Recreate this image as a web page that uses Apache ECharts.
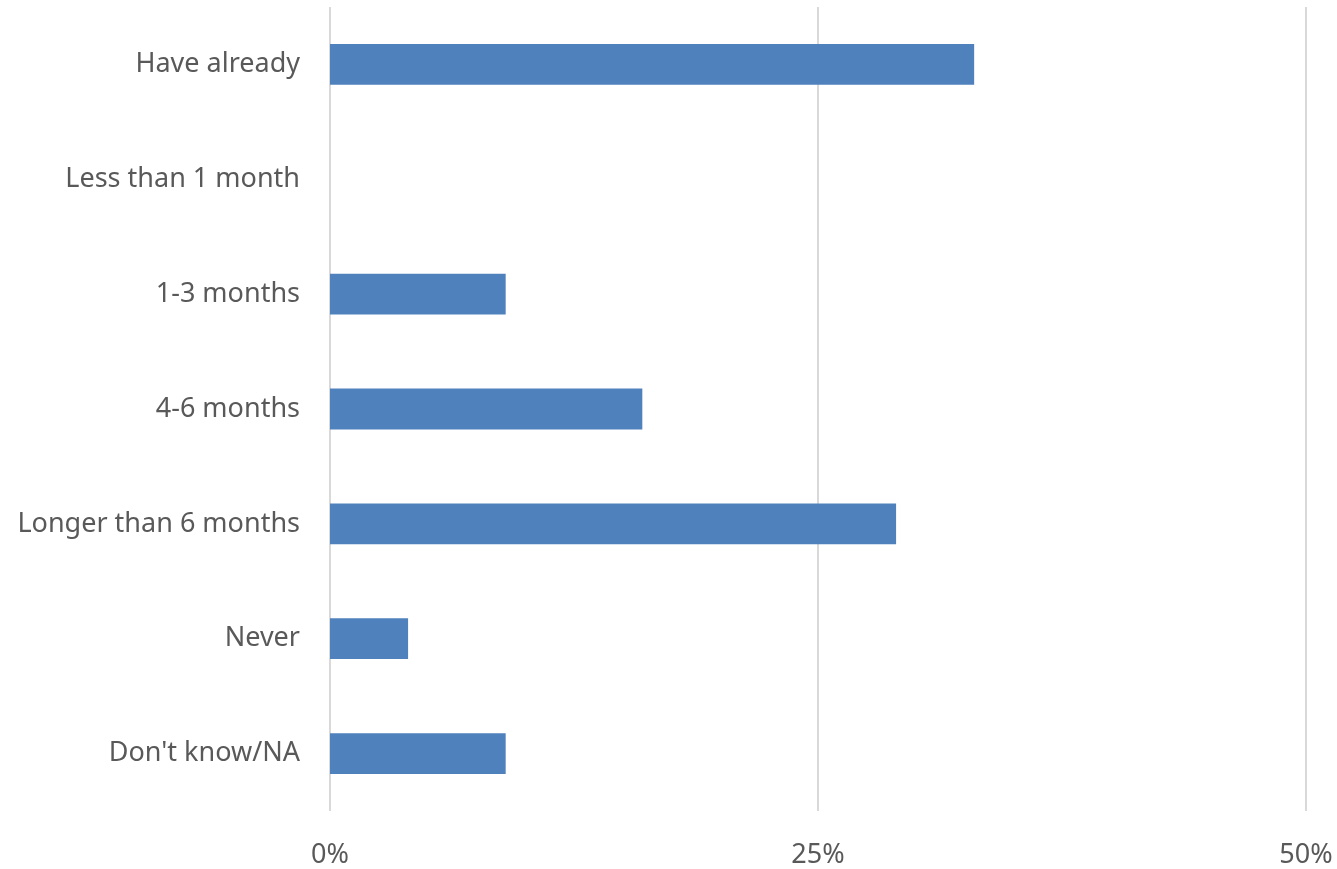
<!DOCTYPE html>
<html>
<head>
<meta charset="utf-8">
<script src="https://cdn.jsdelivr.net/npm/echarts@6/dist/echarts.min.js"></script>
<style>
  html, body { margin: 0; padding: 0; background: #ffffff; }
  #chart { width: 1337px; height: 869px; }
</style>
</head>
<body>
<div id="chart"></div>
<script>
// Expected time frame categories, listed top to bottom
const categories = [
  'Have already',
  'Less than 1 month',
  '1-3 months',
  '4-6 months',
  'Longer than 6 months',
  'Never',
  "Don't know/NA"
];
// Share of respondents (%)
const shares = [33, 0, 9, 16, 29, 4, 9];
// Value axis ticks
const tickValues = [0, 25, 50];

const chart = echarts.init(document.getElementById('chart'));
const labelFont = '"Noto Sans", "Open Sans", sans-serif';

chart.setOption({
  animation: false,
  grid: { left: 330, right: 31, top: 7, bottom: 54, containLabel: false },
  xAxis: {
    type: 'value',
    min: tickValues[0],
    max: tickValues[tickValues.length - 1],
    interval: tickValues[1] - tickValues[0],
    axisLine: { show: false },
    axisTick: { show: false },
    splitLine: { show: true, lineStyle: { color: '#d9d9d9', width: 2 } },
    axisLabel: {
      margin: 31,
      color: '#595959',
      fontSize: 27,
      fontFamily: labelFont,
      formatter: v => v + '%'
    }
  },
  yAxis: {
    type: 'category',
    inverse: true,
    data: categories,
    axisLine: { show: false },
    axisTick: { show: false },
    splitLine: { show: false },
    axisLabel: {
      margin: 30,
      color: '#595959',
      fontSize: 27,
      fontFamily: labelFont,
      padding: [3, 0, 0, 0]
    }
  },
  series: [{
    type: 'bar',
    data: shares,
    barWidth: '35.5%',
    itemStyle: { color: '#4f81bd' }
  }]
});
</script>
</body>
</html>
